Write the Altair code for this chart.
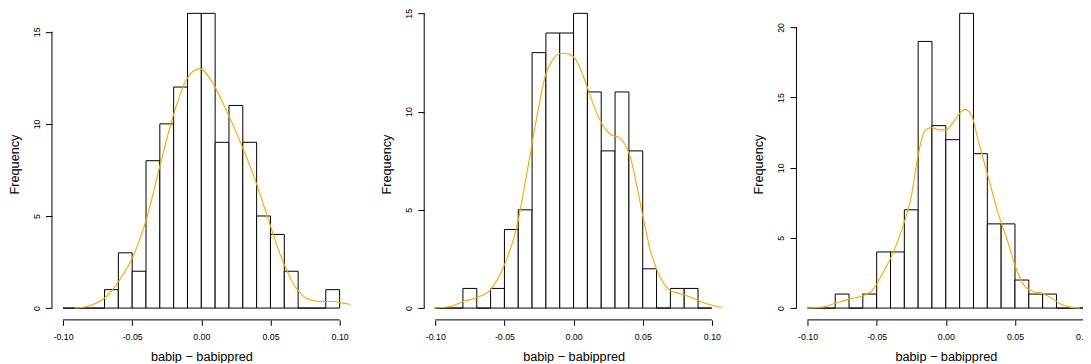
import altair as alt
import pandas as pd

# ---- data ----
bin_starts = [-0.10, -0.09, -0.08, -0.07, -0.06, -0.05, -0.04, -0.03, -0.02, -0.01,
              0.00, 0.01, 0.02, 0.03, 0.04, 0.05, 0.06, 0.07, 0.08, 0.09]
bin_ends = [-0.09, -0.08, -0.07, -0.06, -0.05, -0.04, -0.03, -0.02, -0.01, 0.00,
            0.01, 0.02, 0.03, 0.04, 0.05, 0.06, 0.07, 0.08, 0.09, 0.10]

counts1 = [0, 0, 0, 1, 3, 2, 8, 10, 12, 16, 16, 9, 11, 9, 5, 4, 2, 0, 0, 1]
counts2 = [0, 0, 1, 0, 1, 4, 5, 13, 14, 14, 15, 11, 8, 11, 8, 2, 0, 1, 1, 0]
counts3 = [0, 0, 1, 0, 1, 4, 4, 7, 19, 13, 12, 21, 11, 6, 6, 2, 1, 1, 0, 0]

dens1_x = [-0.0915, -0.0807, -0.0687, -0.059, -0.0494, -0.0398, -0.030, -0.0205, -0.0108,
           -0.0012, 0.0084, 0.018, 0.0277, 0.0373, 0.047, 0.0566, 0.0663, 0.0759, 0.0855,
           0.095, 0.1024, 0.1085]
dens1_y = [0.0, 0.13, 0.63, 1.54, 2.8, 4.8, 7.7, 10.4, 12.4,
           13.0, 12.2, 10.75, 9.1, 7.3, 5.15, 3.0, 1.36, 0.54, 0.36,
           0.36, 0.27, 0.2]

dens2_x = [-0.1012, -0.0892, -0.0795, -0.0699, -0.0602, -0.0506, -0.041, -0.0337, -0.0265,
           -0.0205, -0.0145, -0.0084, -0.0024, 0.0036, 0.0096, 0.0157, 0.0217, 0.0277,
           0.0325, 0.0373, 0.041, 0.0458, 0.0506, 0.0554, 0.0602, 0.065, 0.0699, 0.0771,
           0.0843, 0.0916, 0.0988, 0.1072]
dens2_y = [0.0, 0.08, 0.34, 0.54, 0.93, 2.1, 4.15, 6.9, 9.75,
           11.8, 12.7, 12.97, 12.9, 12.4, 11.3, 10.1, 9.24, 8.8,
           8.7, 8.3, 7.7, 6.2, 4.5, 2.97, 1.95, 1.27, 0.9, 0.73,
           0.56, 0.34, 0.17, 0.03]

dens3_x = [-0.100, -0.089, -0.0794, -0.0698, -0.060, -0.0528, -0.0456, -0.0383, -0.0311,
           -0.025, -0.0202, -0.0154, -0.0105, -0.0045, 0.0004, 0.0064, 0.0137, 0.0185,
           0.0233, 0.0306, 0.0378, 0.0451, 0.0511, 0.0572, 0.0632, 0.0705, 0.0765, 0.0826,
           0.0898, 0.0971]
dens3_y = [0.0, 0.07, 0.36, 0.64, 0.88, 1.3, 2.5, 3.9, 5.8,
           7.95, 10.8, 12.6, 12.86, 12.7, 12.7, 13.4, 14.16, 13.76,
           11.98, 9.37, 6.76, 4.63, 2.73, 1.54, 1.19, 1.02, 0.71, 0.31,
           0.07, 0.0]

x_ticks = [-0.10, -0.05, 0.00, 0.05, 0.10]
y_ticks1 = [0, 5, 10, 15]
y_ticks2 = [0, 5, 10, 15]
y_ticks3 = [0, 5, 10, 15, 20]

x_title = "babip \u2212 babippred"
y_title = "Frequency"
FONT = "Liberation Sans"

W = 299
H = 312


def panel(counts, dx, dy, yticks):
    m = max(counts)
    ydom = [-0.04 * m, 1.0176 * m]
    xs = alt.Scale(domain=[-0.108, 0.108], nice=False, zero=False)
    ys = alt.Scale(domain=ydom, nice=False, zero=False)

    hist = pd.DataFrame({"x": bin_starts, "x2": bin_ends, "y": counts})
    dens = pd.DataFrame({"x": dx, "y": dy})

    x_axis = alt.Axis(values=x_ticks, domain=False, grid=False, ticks=True,
                      tickSize=5.5, tickColor="black", tickWidth=1,
                      labelExpr="replace(format(datum.value, '.2f'), '\u2212', '-')",
                      labelFont=FONT, labelFontSize=8.8, labelColor="black",
                      labelPadding=7, labelFlush=False, labelOverlap=False,
                      title=x_title, titleFont=FONT, titleFontSize=12.7,
                      titleFontWeight="normal", titleColor="black", titlePadding=9)
    y_axis = alt.Axis(values=yticks, domain=False, grid=False, ticks=True,
                      tickSize=6.5, tickColor="black", tickWidth=1,
                      labelAngle=-90, labelFont=FONT, labelFontSize=8.8,
                      labelColor="black", labelPadding=4, labelFlush=False,
                      labelOverlap=False,
                      title=y_title, titleFont=FONT, titleFontSize=12.7,
                      titleFontWeight="normal", titleColor="black", titlePadding=11)

    bars = alt.Chart(hist).mark_rect(fill="white", stroke="black", strokeWidth=1).encode(
        x=alt.X("x:Q", scale=xs, axis=x_axis),
        x2="x2:Q",
        y=alt.Y("y:Q", scale=ys, axis=y_axis),
        y2=alt.datum(0),
    )
    line = alt.Chart(dens).mark_line(color="#FFA500", strokeWidth=1.1, clip=True,
                                     interpolate="monotone").encode(
        x=alt.X("x:Q", scale=xs),
        y=alt.Y("y:Q", scale=ys),
    )
    xrule = alt.Chart(pd.DataFrame({"x": [x_ticks[0]], "x2": [x_ticks[-1]], "y": [ydom[0]]})
                      ).mark_rule(color="black", strokeWidth=1).encode(
        x=alt.X("x:Q", scale=xs),
        x2="x2:Q",
        y=alt.Y("y:Q", scale=ys),
    )
    yrule = alt.Chart(pd.DataFrame({"x": [-0.108], "y": [yticks[0]], "y2": [yticks[-1]]})
                      ).mark_rule(color="black", strokeWidth=1).encode(
        x=alt.X("x:Q", scale=xs),
        y=alt.Y("y:Q", scale=ys),
        y2="y2:Q",
    )
    return alt.layer(bars, line, xrule, yrule).properties(width=W, height=H)


p1 = panel(counts1, dens1_x, dens1_y, y_ticks1)
p2 = panel(counts2, dens2_x, dens2_y, y_ticks2)
p3 = panel(counts3, dens3_x, dens3_y, y_ticks3)

chart = alt.hconcat(p1, p2, p3, spacing=73.6, bounds="flush").properties(
    padding={"left": 0, "top": 0, "right": -13, "bottom": 0},
    background="white",
).configure_view(stroke=None)

chart.save("out.html", embed_options={"renderer": "svg", "actions": False})
